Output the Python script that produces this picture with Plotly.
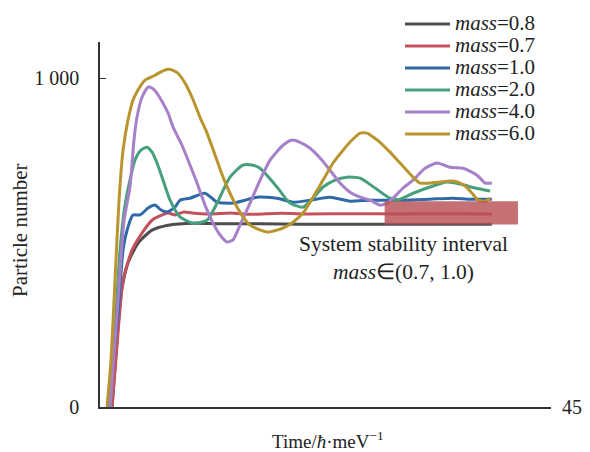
import plotly.graph_objects as go

# ---- data (time in ħ/meV, particle number) ----
t_08 = [1.2, 1.5, 1.83, 2.17, 2.79, 3.79, 5.19, 6.79, 9.48, 12, 16, 20, 25, 30, 35, 39.1]
n_08 = [0, 122, 255, 356, 438, 498, 538, 553, 559, 557, 557, 556, 556, 556, 556, 556]

t_07 = [1.2, 1.5, 1.9, 2.3, 3.19, 4.19, 5.19, 5.99, 6.79, 7.49, 8.38, 9.18, 11, 13, 15, 18, 21, 25, 30, 35, 39.1]
n_07 = [0, 112, 264, 386, 477, 529, 568, 581, 590, 584, 593, 590, 587, 590, 586, 589, 587, 588, 587, 588, 587]

t_10 = [0.9, 1.3, 1.8, 2.3, 2.79, 3.29, 4.0, 4.8, 5.49, 6.09, 6.69, 7.49, 7.98, 8.98, 10.48, 11.68, 13.27,
        14.47, 15.67, 17.66, 19.26, 20.96, 22.95, 24.95, 26.95, 30.24, 32.9, 35.23, 36.9, 39.1]
n_10 = [0, 143, 286, 477, 547, 584, 584, 605, 614, 599, 593, 608, 629, 635, 650, 623, 620,
        629, 638, 635, 623, 629, 638, 626, 629, 629, 632, 635, 632, 632]

t_20 = [1.0, 1.5, 2.0, 2.5, 2.99, 3.49, 4.09, 4.69, 5.19, 5.69, 6.29, 6.99, 7.98, 9.28, 10.68, 11.68, 12.97,
        14.27, 15.17, 15.97, 17.66, 18.96, 20.26, 21.26, 22.26, 23.45, 24.65, 25.95, 27.44, 28.94, 29.94,
        31.24, 32.93, 34.63, 35.93, 37.43, 38.92]
n_20 = [0, 234, 477, 614, 690, 751, 781, 790, 775, 742, 690, 629, 578, 559, 568, 620, 699,
        736, 736, 726, 669, 620, 608, 635, 669, 690, 699, 696, 666, 635, 632,
        650, 669, 684, 678, 666, 657]

t_40 = [1.0, 1.8, 2.4, 2.99, 3.39, 3.69, 4.19, 4.79, 5.19, 5.69, 6.29, 6.79, 7.29, 8.18, 8.98, 9.68, 10.48,
        11.28, 11.98, 12.67, 13.27, 13.97, 14.97, 15.97, 16.97, 18.26, 19.16, 19.96, 20.96, 21.96, 22.95,
        23.95, 24.95, 25.95, 26.95, 27.94, 28.64, 29.24, 30.24, 31.24, 32.43, 33.63, 34.93, 36.23, 37.62,
        38.42, 39.1]
n_40 = [0, 325, 568, 669, 812, 881, 942, 973, 970, 954, 924, 894, 851, 796, 736, 681, 614,
        559, 523, 502, 508, 553, 620, 690, 751, 796, 812, 805, 787, 757, 720,
        681, 653, 638, 629, 614, 620, 635, 666, 690, 726, 742, 729, 726, 705,
        681, 681]

t_60 = [0.7, 1.1, 1.5, 1.9, 2.3, 2.79, 3.29, 3.79, 4.49, 5.49, 6.19, 6.79, 7.29, 7.78, 8.48, 9.18, 9.98,
        10.68, 11.48, 12.28, 12.97, 13.67, 14.27, 14.97, 15.77, 16.67, 17.66, 18.46, 19.26, 20.26, 21.26,
        22.26, 23.25, 24.25, 25.15, 25.95, 26.65, 27.25, 27.94, 28.94, 29.94, 31.24, 31.94, 32.93, 33.93,
        34.93, 35.73, 36.43, 37.13, 37.72, 38.42, 38.92]
n_60 = [0, 143, 386, 629, 781, 872, 933, 964, 994, 1009, 1021, 1027, 1024, 1015, 985, 942, 881,
        833, 766, 699, 650, 608, 578, 553, 541, 532, 538, 547, 562, 590, 638,
        690, 742, 781, 812, 833, 833, 821, 805, 775, 742, 699, 681, 681, 684,
        687, 684, 672, 650, 629, 626, 635]

series_names = ["0.8", "0.7", "1.0", "2.0", "4.0", "6.0"]
series_t = [t_08, t_07, t_10, t_20, t_40, t_60]
series_n = [n_08, n_07, n_10, n_20, n_40, n_60]
series_colors = ["#4d4d4f", "#c4525c", "#2f69a8", "#46a07c", "#a680c8", "#b9952f"]

stability_t = [28.4, 41.7]
stability_n = [555, 626]

y_ticks = [0, 1000]
y_tick_text = ["0", "1 000"]
x_max = 45

FONT = "Liberation Serif"
W, H = 590, 452
OFF = 8  # page body margin of the browser
# plot area in screen pixels: x 100..551, y 42..407
ML, MT = 100 - OFF, 42 - OFF
MR, MB = W - (551 - OFF), H - (407 - OFF)
PW, PH = W - ML - MR, H - MT - MB


def screen_to_paper(px, py):
    return (px - OFF - ML) / PW, (H - MB - (py - OFF)) / PH


fig = go.Figure()
for name, tt, nn, col in zip(series_names, series_t, series_n, series_colors):
    fig.add_trace(go.Scatter(
        x=tt, y=nn, mode="lines",
        name="<span style='font-size:21px'><i>mass</i>=" + name + "</span>",
        line=dict(color=col, width=3, shape="spline", smoothing=0.6),
    ))

fig.add_shape(type="rect", xref="x", yref="y",
              x0=stability_t[0], x1=stability_t[1], y0=stability_n[0], y1=stability_n[1],
              fillcolor="rgba(183,80,86,0.82)", line=dict(width=0), layer="above")

fig.add_annotation(x=(stability_t[0] + stability_t[1]) / 2 - 4.8, y=stability_n[0] - 18,
                   xref="x", yref="y", yanchor="top", showarrow=False,
                   text="System stability interval<br><i>mass</i>∈(0.7, 1.0)",
                   font=dict(family=FONT, size=21.5, color="#222"), align="center")

fig.add_annotation(x=x_max, y=0, xref="x", yref="y", xanchor="left", xshift=9,
                   showarrow=False, text=str(x_max),
                   font=dict(family=FONT, size=20, color="#222"))

ax_x, ax_y = screen_to_paper(328, 440)
fig.add_annotation(x=ax_x, y=ax_y, xref="paper", yref="paper",
                   xanchor="center", yanchor="middle",
                   showarrow=False, text="Time/<i>ħ</i>·meV<sup>−1</sup>",
                   font=dict(family=FONT, size=19, color="#222"))

ay_x, ay_y = screen_to_paper(20, 230)
fig.add_annotation(x=ay_x, y=ay_y, xref="paper", yref="paper",
                   xanchor="center", yanchor="middle", textangle=-90,
                   showarrow=False, text="Particle number",
                   font=dict(family=FONT, size=21, color="#222"))

fig.update_layout(
    width=W, height=H,
    margin=dict(l=ML, r=MR, t=MT, b=MB, autoexpand=False),
    paper_bgcolor="white", plot_bgcolor="white",
    font=dict(family=FONT, size=20, color="#222"),
    showlegend=True,
    legend=dict(x=(400 - OFF) / W, y=1 + (OFF + 8) / H, xref="container", yref="container",
                xanchor="left", yanchor="top",
                bgcolor="rgba(0,0,0,0)", font=dict(family=FONT, size=14.6, color="#222"),
                tracegroupgap=0, itemwidth=45),
    xaxis=dict(range=[0, x_max], showgrid=False, zeroline=False, showline=True,
               linecolor="#333", linewidth=1.5, tickvals=[x_max], ticktext=[""],
               ticks="inside", ticklen=5, tickcolor="#333", automargin=False),
    yaxis=dict(range=[0, 1110], showgrid=False, zeroline=False, showline=True,
               linecolor="#333", linewidth=1.5, tickvals=y_ticks, ticktext=y_tick_text,
               ticks="inside", ticklen=6, tickcolor="#333", ticklabelstandoff=15,
               automargin=False),
)

fig.write_html("out.html")
